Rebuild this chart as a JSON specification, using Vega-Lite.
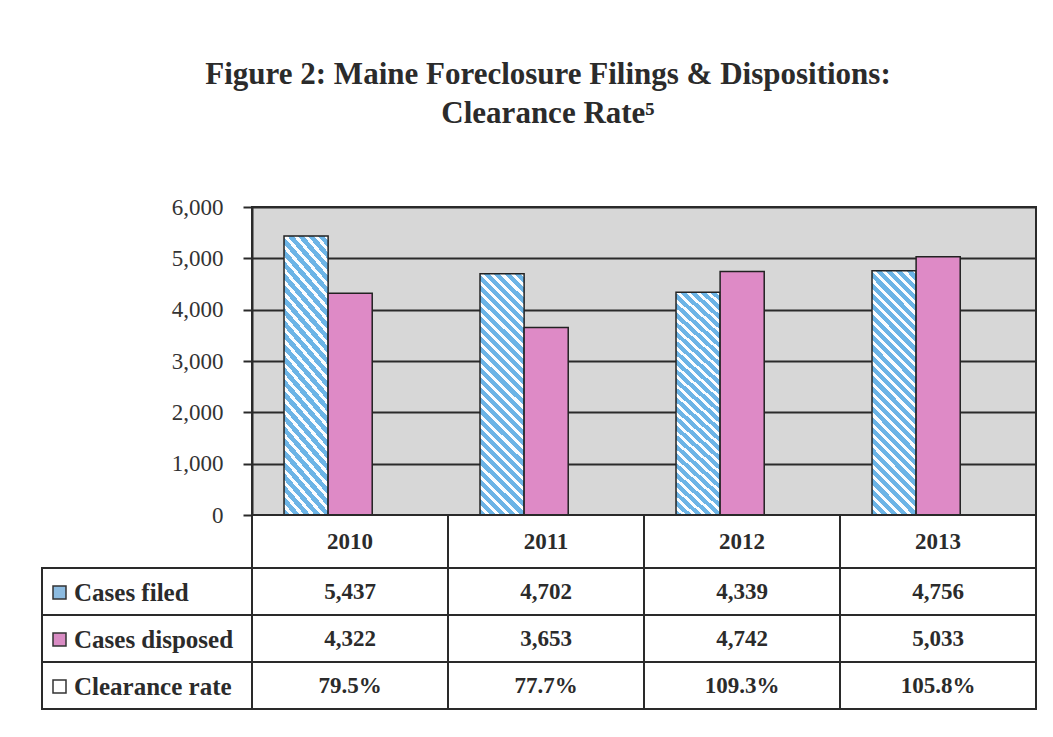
{
  "$schema": "https://vega.github.io/schema/vega-lite/v6.json",
  "autosize": {"type": "pad"},
  "padding": {"left": 41, "top": 59, "right": 5, "bottom": 5},
  "background": "white",
  "config": {"font": "Liberation Serif", "view": {"stroke": null}},
  "title": {
    "text": ["Figure 2: Maine Foreclosure Filings & Dispositions:", "Clearance Rate⁵"],
    "font": "Liberation Serif", "fontSize": 31, "fontWeight": "bold", "color": "#2b2b2b",
    "lineHeight": 39, "anchor": "middle", "offset": 65, "dx": 9
  },
  "datasets": {
    "fc": [
      {"year": "2010", "Cases filed": 5437, "Cases disposed": 4322, "Clearance rate": 0.795},
      {"year": "2011", "Cases filed": 4702, "Cases disposed": 3653, "Clearance rate": 0.777},
      {"year": "2012", "Cases filed": 4339, "Cases disposed": 4742, "Clearance rate": 1.093},
      {"year": "2013", "Cases filed": 4756, "Cases disposed": 5033, "Clearance rate": 1.058}
    ]
  },
  "columns": 2,
  "spacing": 0,
  "bounds": "flush",
  "resolve": {"scale": {"color": "independent"}, "legend": {"color": "independent"}},
  "concat": [
    {"width": 210, "height": 308, "data": {"values": []}, "mark": "point"},
    {
      "width": 784, "height": 308,
      "data": {"name": "fc"},
      "transform": [{"fold": ["Cases filed", "Cases disposed"], "as": ["series", "value"]}],
      "view": {"fill": "#d7d7d7", "stroke": "#2a2a2a", "strokeWidth": 2},
      "encoding": {
        "x": {"field": "year", "type": "nominal", "scale": {"paddingInner": 0.55, "paddingOuter": 0.275, "align": 0.297}, "axis": null},
        "xOffset": {"field": "series", "type": "nominal", "scale": {"domain": ["Cases filed", "Cases disposed"]}},
        "y": {"field": "value", "type": "quantitative", "scale": {"domain": [0, 6000]},
          "axis": {"title": null, "values": [0, 1000, 2000, 3000, 4000, 5000, 6000], "format": ",.0f",
            "tickSize": 9, "tickWidth": 2, "tickColor": "#2a2a2a", "domainColor": "#2a2a2a", "domainWidth": 2,
            "grid": true, "gridColor": "#2a2a2a", "gridWidth": 2, "gridOpacity": 1,
            "labelFont": "Liberation Serif", "labelFontSize": 23, "labelColor": "#333333", "labelPadding": 20}}
      },
      "layer": [
        {
          "transform": [{"filter": "datum.series === 'Cases filed'"}],
          "mark": {"type": "bar", "stroke": "#222222", "strokeWidth": 1.5,
            "fill": {"gradient": "linear", "x1": 0, "y1": 1, "x2": 0.208, "y2": -0.144, "stops": [
              {"offset": 0, "color": "#6cb4e6"}, {"offset": 0.021429, "color": "#6cb4e6"}, {"offset": 0.021429, "color": "#fbfdff"}, {"offset": 0.035714, "color": "#fbfdff"},
              {"offset": 0.035714, "color": "#6cb4e6"}, {"offset": 0.057143, "color": "#6cb4e6"}, {"offset": 0.057143, "color": "#fbfdff"}, {"offset": 0.071429, "color": "#fbfdff"},
              {"offset": 0.071429, "color": "#6cb4e6"}, {"offset": 0.092857, "color": "#6cb4e6"}, {"offset": 0.092857, "color": "#fbfdff"}, {"offset": 0.107143, "color": "#fbfdff"},
              {"offset": 0.107143, "color": "#6cb4e6"}, {"offset": 0.128571, "color": "#6cb4e6"}, {"offset": 0.128571, "color": "#fbfdff"}, {"offset": 0.142857, "color": "#fbfdff"},
              {"offset": 0.142857, "color": "#6cb4e6"}, {"offset": 0.164286, "color": "#6cb4e6"}, {"offset": 0.164286, "color": "#fbfdff"}, {"offset": 0.178571, "color": "#fbfdff"},
              {"offset": 0.178571, "color": "#6cb4e6"}, {"offset": 0.2, "color": "#6cb4e6"}, {"offset": 0.2, "color": "#fbfdff"}, {"offset": 0.214286, "color": "#fbfdff"},
              {"offset": 0.214286, "color": "#6cb4e6"}, {"offset": 0.235714, "color": "#6cb4e6"}, {"offset": 0.235714, "color": "#fbfdff"}, {"offset": 0.25, "color": "#fbfdff"},
              {"offset": 0.25, "color": "#6cb4e6"}, {"offset": 0.271429, "color": "#6cb4e6"}, {"offset": 0.271429, "color": "#fbfdff"}, {"offset": 0.285714, "color": "#fbfdff"},
              {"offset": 0.285714, "color": "#6cb4e6"}, {"offset": 0.307143, "color": "#6cb4e6"}, {"offset": 0.307143, "color": "#fbfdff"}, {"offset": 0.321429, "color": "#fbfdff"},
              {"offset": 0.321429, "color": "#6cb4e6"}, {"offset": 0.342857, "color": "#6cb4e6"}, {"offset": 0.342857, "color": "#fbfdff"}, {"offset": 0.357143, "color": "#fbfdff"},
              {"offset": 0.357143, "color": "#6cb4e6"}, {"offset": 0.378571, "color": "#6cb4e6"}, {"offset": 0.378571, "color": "#fbfdff"}, {"offset": 0.392857, "color": "#fbfdff"},
              {"offset": 0.392857, "color": "#6cb4e6"}, {"offset": 0.414286, "color": "#6cb4e6"}, {"offset": 0.414286, "color": "#fbfdff"}, {"offset": 0.428571, "color": "#fbfdff"},
              {"offset": 0.428571, "color": "#6cb4e6"}, {"offset": 0.45, "color": "#6cb4e6"}, {"offset": 0.45, "color": "#fbfdff"}, {"offset": 0.464286, "color": "#fbfdff"},
              {"offset": 0.464286, "color": "#6cb4e6"}, {"offset": 0.485714, "color": "#6cb4e6"}, {"offset": 0.485714, "color": "#fbfdff"}, {"offset": 0.5, "color": "#fbfdff"},
              {"offset": 0.5, "color": "#6cb4e6"}, {"offset": 0.521429, "color": "#6cb4e6"}, {"offset": 0.521429, "color": "#fbfdff"}, {"offset": 0.535714, "color": "#fbfdff"},
              {"offset": 0.535714, "color": "#6cb4e6"}, {"offset": 0.557143, "color": "#6cb4e6"}, {"offset": 0.557143, "color": "#fbfdff"}, {"offset": 0.571429, "color": "#fbfdff"},
              {"offset": 0.571429, "color": "#6cb4e6"}, {"offset": 0.592857, "color": "#6cb4e6"}, {"offset": 0.592857, "color": "#fbfdff"}, {"offset": 0.607143, "color": "#fbfdff"},
              {"offset": 0.607143, "color": "#6cb4e6"}, {"offset": 0.628571, "color": "#6cb4e6"}, {"offset": 0.628571, "color": "#fbfdff"}, {"offset": 0.642857, "color": "#fbfdff"},
              {"offset": 0.642857, "color": "#6cb4e6"}, {"offset": 0.664286, "color": "#6cb4e6"}, {"offset": 0.664286, "color": "#fbfdff"}, {"offset": 0.678571, "color": "#fbfdff"},
              {"offset": 0.678571, "color": "#6cb4e6"}, {"offset": 0.7, "color": "#6cb4e6"}, {"offset": 0.7, "color": "#fbfdff"}, {"offset": 0.714286, "color": "#fbfdff"},
              {"offset": 0.714286, "color": "#6cb4e6"}, {"offset": 0.735714, "color": "#6cb4e6"}, {"offset": 0.735714, "color": "#fbfdff"}, {"offset": 0.75, "color": "#fbfdff"},
              {"offset": 0.75, "color": "#6cb4e6"}, {"offset": 0.771429, "color": "#6cb4e6"}, {"offset": 0.771429, "color": "#fbfdff"}, {"offset": 0.785714, "color": "#fbfdff"},
              {"offset": 0.785714, "color": "#6cb4e6"}, {"offset": 0.807143, "color": "#6cb4e6"}, {"offset": 0.807143, "color": "#fbfdff"}, {"offset": 0.821429, "color": "#fbfdff"},
              {"offset": 0.821429, "color": "#6cb4e6"}, {"offset": 0.842857, "color": "#6cb4e6"}, {"offset": 0.842857, "color": "#fbfdff"}, {"offset": 0.857143, "color": "#fbfdff"},
              {"offset": 0.857143, "color": "#6cb4e6"}, {"offset": 0.878571, "color": "#6cb4e6"}, {"offset": 0.878571, "color": "#fbfdff"}, {"offset": 0.892857, "color": "#fbfdff"},
              {"offset": 0.892857, "color": "#6cb4e6"}, {"offset": 0.914286, "color": "#6cb4e6"}, {"offset": 0.914286, "color": "#fbfdff"}, {"offset": 0.928571, "color": "#fbfdff"},
              {"offset": 0.928571, "color": "#6cb4e6"}, {"offset": 0.95, "color": "#6cb4e6"}, {"offset": 0.95, "color": "#fbfdff"}, {"offset": 0.964286, "color": "#fbfdff"},
              {"offset": 0.964286, "color": "#6cb4e6"}, {"offset": 0.985714, "color": "#6cb4e6"}, {"offset": 0.985714, "color": "#fbfdff"}, {"offset": 1, "color": "#fbfdff"}
            ]}}
        },
        {
          "transform": [{"filter": "datum.series === 'Cases disposed'"}],
          "mark": {"type": "bar", "fill": "#de8ac6", "stroke": "#222222", "strokeWidth": 1.5}
        }
      ]
    },
    {"width": 210, "height": 53, "data": {"values": []}, "mark": "point"},
    {
      "width": 784, "height": 53,
      "data": {"name": "fc"},
      "encoding": {"x": {"field": "year", "type": "nominal", "scale": {"paddingInner": 0, "paddingOuter": 0}, "axis": null}},
      "layer": [
        {"mark": {"type": "rect", "fill": "white", "stroke": "#2a2a2a", "strokeWidth": 2}},
        {"mark": {"type": "text", "font": "Liberation Serif", "fontWeight": "bold", "fontSize": 23, "color": "#2b2b2b"},
         "encoding": {"text": {"field": "year", "type": "nominal"}}}
      ]
    },
    {
      "width": 210, "height": 141,
      "data": {"name": "fc"},
      "transform": [{"fold": ["Cases filed", "Cases disposed", "Clearance rate"], "as": ["series", "value"]}],
      "encoding": {"y": {"field": "series", "type": "nominal", "scale": {"domain": ["Cases filed", "Cases disposed", "Clearance rate"], "paddingInner": 0, "paddingOuter": 0}, "axis": null}},
      "layer": [
        {"mark": {"type": "square", "stroke": "#333333", "strokeWidth": 1.5, "size": 169},
         "encoding": {"color": {"field": "series", "type": "nominal",
           "scale": {"domain": ["Cases filed", "Cases disposed", "Clearance rate"], "range": ["#8cbbe0", "#d98cc4", "#ffffff"]},
           "legend": {"title": null, "orient": "none", "legendX": 5, "legendY": 12, "direction": "vertical",
             "symbolType": "square", "symbolSize": 169, "symbolStrokeColor": "#333333", "symbolStrokeWidth": 1.5, "symbolOpacity": 1,
             "labelFont": "Liberation Serif", "labelFontWeight": "bold", "labelFontSize": 25, "labelColor": "#2b2b2b",
             "labelOffset": 2, "rowPadding": 21, "padding": 0, "labelLimit": 300}}}},
        {"mark": {"type": "rect", "fill": "white", "stroke": "#2a2a2a", "strokeWidth": 2}}
      ]
    },
    {
      "width": 784, "height": 141,
      "data": {"name": "fc"},
      "transform": [{"fold": ["Cases filed", "Cases disposed", "Clearance rate"], "as": ["series", "value"]}],
      "encoding": {
        "x": {"field": "year", "type": "nominal", "scale": {"paddingInner": 0, "paddingOuter": 0}, "axis": null},
        "y": {"field": "series", "type": "nominal", "scale": {"domain": ["Cases filed", "Cases disposed", "Clearance rate"], "paddingInner": 0, "paddingOuter": 0}, "axis": null}
      },
      "layer": [
        {"mark": {"type": "rect", "fill": "white", "stroke": "#2a2a2a", "strokeWidth": 2}},
        {"transform": [{"filter": "datum.series !== 'Clearance rate'"}],
         "mark": {"type": "text", "font": "Liberation Serif", "fontWeight": "bold", "fontSize": 23, "color": "#2b2b2b"},
         "encoding": {"text": {"field": "value", "type": "quantitative", "format": ","}}},
        {"transform": [{"filter": "datum.series === 'Clearance rate'"}],
         "mark": {"type": "text", "font": "Liberation Serif", "fontWeight": "bold", "fontSize": 23, "color": "#2b2b2b"},
         "encoding": {"text": {"field": "value", "type": "quantitative", "format": ".1%"}}}
      ]
    }
  ]
}
